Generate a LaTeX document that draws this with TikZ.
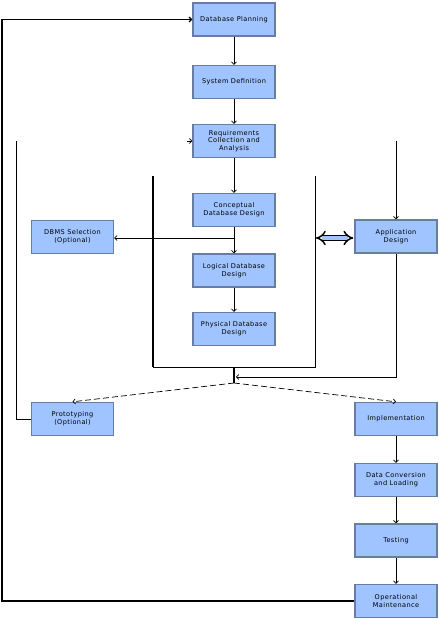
\documentclass[tikz,border=0pt]{standalone}
\usepackage{fontspec}
\setmainfont{DejaVu Sans}[LetterSpace=6]
\usetikzlibrary{arrows.meta}
\definecolor{boxfill}{RGB}{160,196,255}
\definecolor{boxline}{RGB}{104,124,164}
\tikzset{
  stage/.style={draw=boxline, fill=boxfill, line width=1.4bp, minimum width=82bp, minimum height=33bp,
    inner sep=1bp, align=center, font=\fontsize{6.6}{7.8}\selectfont},
  conn/.style={line width=0.7bp, draw=black},
  arr/.style={conn, -{Straight Barb[length=2.4bp,width=5bp]}},
  thick conn/.style={line width=1.2bp, draw=black}
}
\begin{document}
\begin{tikzpicture}[x=1bp,y=-1bp]
\useasboundingbox (0,0) rectangle (439,619);
\fill[white] (0,0) rectangle (439,619);
% nodes
\node[stage] (plan) at (234,19.5) {Database Planning};
\node[stage] (sysdef) at (234,82) {System Definition};
\node[stage] (req) at (234,141) {Requirements\\Collection and\\Analysis};
\node[stage] (concept) at (234,210) {Conceptual\\Database Design};
\node[stage] (logical) at (234,270.5) {Logical Database\\Design};
\node[stage] (physical) at (234,329) {Physical Database\\Design};
\node[stage] (dbms) at (72.5,237) {DBMS Selection\\(Optional)};
\node[stage] (appdes) at (396,236.5) {Application\\Design};
\node[stage] (proto) at (72.5,419) {Prototyping\\(Optional)};
\node[stage] (impl) at (396,419) {Implementation};
\node[stage] (dataconv) at (396,480) {Data Conversion\\and Loading};
\node[stage] (testing) at (396,540.5) {Testing};
\node[stage] (opmaint) at (396,601) {Operational\\Maintenance};
% coordinates
\coordinate (j1) at (234,238);
\coordinate (fTL) at (153,176);
\coordinate (fBL) at (153,367);
\coordinate (fBR) at (315,367);
\coordinate (fTR) at (315,176);
\coordinate (fMid) at (234,367);
\coordinate (split) at (234,383);
\coordinate (appbend) at (396,377);
\coordinate (append) at (236,377);
\coordinate (loopBL) at (2,601);
\coordinate (loopTL) at (2,19.5);
\coordinate (protoTop) at (16,141);
\coordinate (protoBend) at (16,419);
\coordinate (reqStub) at (187,141);
\coordinate (appTop) at (396,141);
\coordinate (dblL) at (315,238);
% main chain
\draw[arr] (plan) -- (sysdef);
\draw[arr] (sysdef) -- (req);
\draw[arr] (req) -- (concept);
\draw[arr] (concept) -- (logical);
\draw[arr] (logical) -- (physical);
\draw[arr] (j1) -- (dbms.east |- j1);
% frame
\draw[thick conn] (fTL) -- (fBL);
\draw[conn] (fBL) -- (fBR) -- (fTR);
\draw[thick conn] (fMid) -- (split);
\draw[arr] (appdes) -- (appbend) -- (append);
% double arrow
\draw[double=boxfill, double distance=3.4bp, line width=1.5bp, {Implies[length=5bp]}-{Implies[length=5bp]}, shorten <=1bp, shorten >=1bp] (dblL) -- (appdes.west |- dblL);
% dashed splits
\draw[arr, dashed, dash pattern=on 6bp off 3bp] (split) -- (proto.north);
\draw[arr, dashed, dash pattern=on 6bp off 3bp] (split) -- (impl.north);
% right chain
\draw[arr] (impl) -- (dataconv);
\draw[arr] (dataconv) -- (testing);
\draw[arr] (testing) -- (opmaint);
% loops
\draw[thick conn, -{Straight Barb[length=2.4bp,width=5bp]}] (opmaint.west) -- (loopBL) -- (loopTL) -- (plan.west);
\draw[conn] (proto.west) -- (protoBend) -- (protoTop);
\draw[arr] (reqStub) -- (req.west);
\draw[arr] (appTop) -- (appdes.north);
\end{tikzpicture}
\end{document}
